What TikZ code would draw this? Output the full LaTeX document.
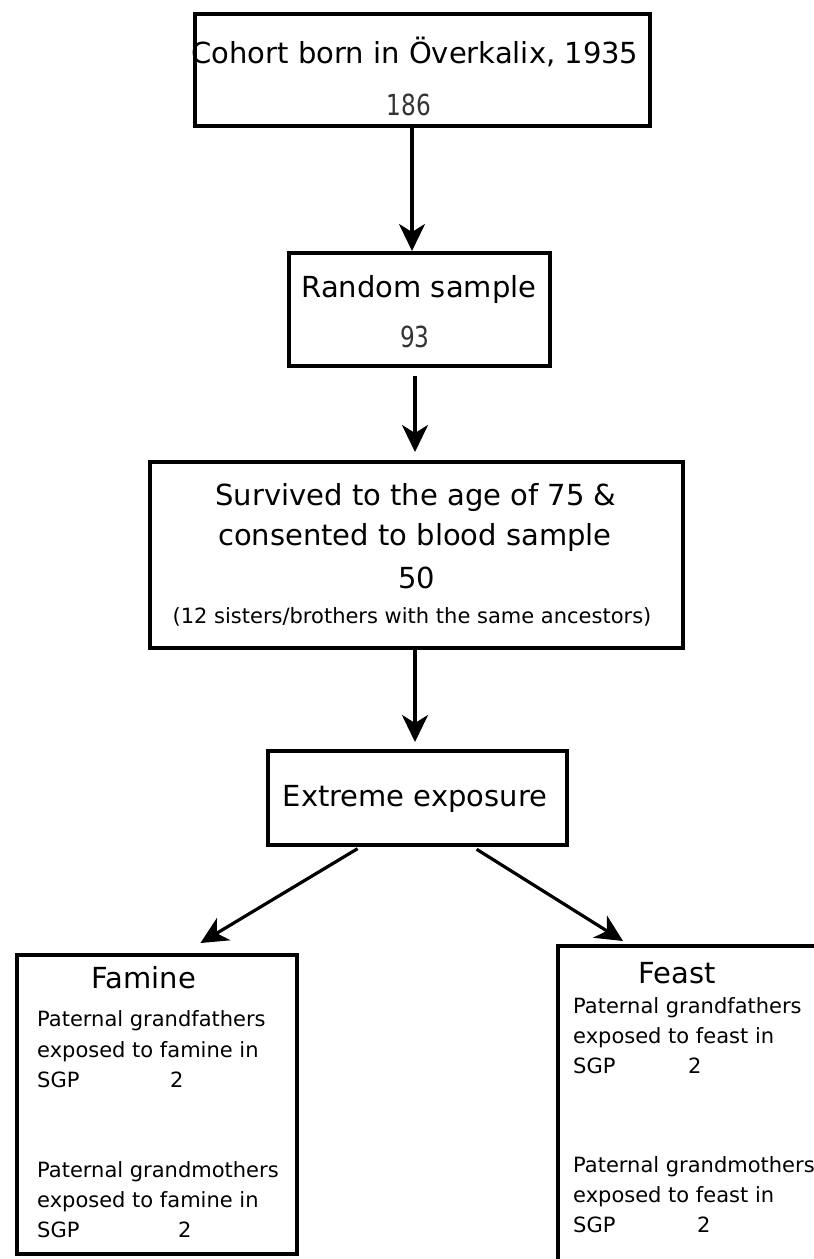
\documentclass[tikz,border=0pt]{standalone}
\usepackage{fontspec}
\setmainfont{DejaVu Sans}
\usetikzlibrary{arrows.meta,calc}
\newcommand{\narrownum}[1]{\scalebox{0.8}[1]{#1}}
\tikzset{
  box/.style={draw, line width=3.6pt, inner sep=0pt, anchor=north west},
  arr/.style={line width=3.2pt, -{Stealth[length=27pt,width=26pt,inset=8pt]}},
  ttl/.style={font=\fontsize{29}{34}\selectfont, anchor=base, inner sep=0pt},
  num/.style={font=\fontsize{29}{34}\selectfont, anchor=base, inner sep=0pt, text=black!80},
  small/.style={font=\fontsize{21}{25}\selectfont, anchor=base, inner sep=0pt},
  body/.style={font=\fontsize{21}{25}\selectfont, anchor=base west, inner sep=0pt},
}
\begin{document}
\begin{tikzpicture}[x=1pt,y=-1pt]
\useasboundingbox[fill=white] (0,0) rectangle (814,1259);
\clip (0,0) rectangle (814,1259);
% boxes
\node[box, minimum width=455pt, minimum height=112pt] (b1) at (193,12) {};
\node[box, minimum width=261pt, minimum height=113pt] (b2) at (287,251) {};
\node[box, minimum width=533pt, minimum height=186pt] (b3) at (148,460) {};
\node[box, minimum width=299pt, minimum height=94pt] (b4) at (266,749) {};
\node[box, minimum width=280pt, minimum height=299pt] (fam) at (15,953) {};
\node[box, minimum width=320pt, minimum height=340pt] (fea) at (556,944) {};
% texts
\node[ttl] (t1) at (415,63) {Cohort born in Överkalix, 1935};
\node[num] (n1) at (409,115) {\narrownum{186}};
\node[ttl] (t2) at (419,297) {Random sample};
\node[num] (n2) at (415,347) {\narrownum{93}};
\node[ttl] (t3a) at (416,505) {Survived to the age of 75 \&};
\node[ttl] (t3b) at (415,545) {consented to blood sample};
\node[ttl] (t3c) at (417,588) {50};
\node[small] (t3d) at (412,623) {(12 sisters/brothers with the same ancestors)};
\node[ttl] (t4) at (415,806) {Extreme exposure};
\node[ttl] (tf) at (144,988) {Famine};
\node[body] (f1) at (37,1026) {Paternal grandfathers};
\node[body] (f2) at (37,1057) {exposed to famine in};
\node[body] (f3) at (37,1087) {SGP};
\node[body] (f3n) at (170,1087) {2};
\node[body] (f4) at (37,1177) {Paternal grandmothers};
\node[body] (f5) at (37,1207) {exposed to famine in};
\node[body] (f6) at (37,1237) {SGP};
\node[body] (f6n) at (178,1237) {2};
\node[ttl] (tg) at (677,983) {Feast};
\node[body] (g1) at (573,1013) {Paternal grandfathers};
\node[body] (g2) at (573,1043) {exposed to feast in};
\node[body] (g3) at (573,1073) {SGP};
\node[body] (g3n) at (688,1073) {2};
\node[body] (g4) at (573,1172) {Paternal grandmothers};
\node[body] (g5) at (573,1202) {exposed to feast in};
\node[body] (g6) at (573,1232) {SGP};
\node[body] (g6n) at (697,1232) {2};
% arrows
\draw[arr] (b1.south -| 412,0) -- (b2.north -| 412,0);
\draw[arr, shorten <=8pt, shorten >=8pt] (b2.south -| 415,0) -- (b3.north -| 415,0);
\draw[arr, shorten >=7pt] (b3.south -| 415,0) -- (b4.north -| 415,0);
\draw[arr, shorten <=4pt] ($(b4.south west)!0.314!(b4.south east)$) -- ($(fam.north west)!0.654!(fam.north east)+(0,-10)$);
\draw[arr, shorten <=5pt] ($(b4.south west)!0.682!(b4.south east)$) -- ($(fea.north west)+(67,-3)$);
\end{tikzpicture}
\end{document}
